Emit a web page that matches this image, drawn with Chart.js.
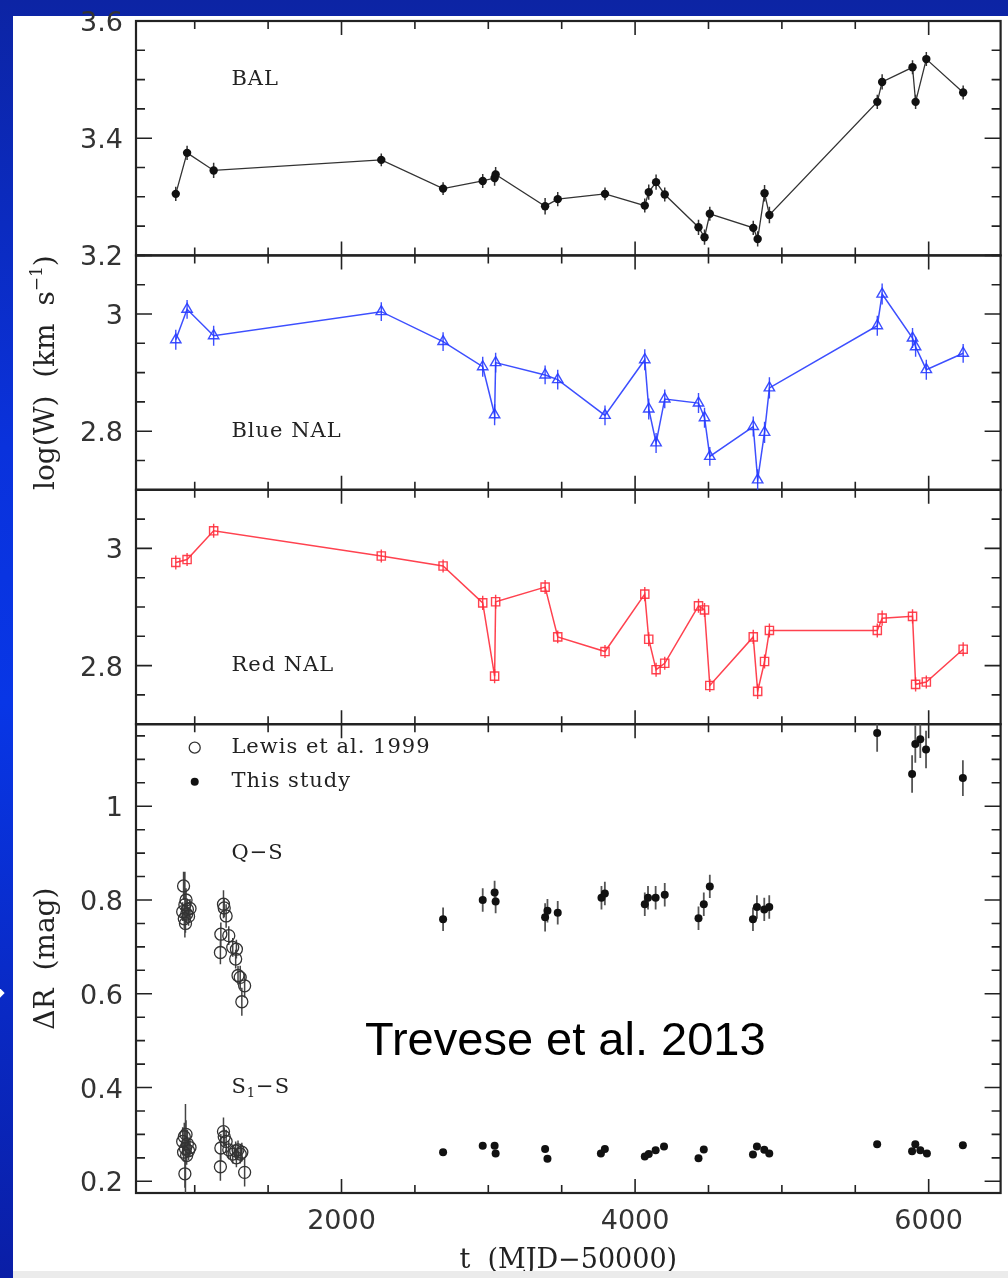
<!DOCTYPE html>
<html>
<head>
<meta charset="utf-8">
<script src="https://cdn.jsdelivr.net/npm/chart.js@4.4.1/dist/chart.umd.min.js"></script>
<style>
  html, body { margin: 0; padding: 0; }
  body {
    width: 1008px; height: 1278px; position: relative; overflow: hidden;
    background: linear-gradient(180deg, #0c24a4 0%, #0a32dc 35%, #0836e6 55%, #0a1ea6 100%);
  }
  #sheet { position: absolute; left: 13px; top: 16px; width: 995px; height: 1255px; background: #fff; }
  #strip { position: absolute; left: 13px; top: 1271px; width: 995px; height: 7px; background: #ebebeb; z-index: 3; }
  #nub { position: absolute; left: -5px; top: 989px; width: 8px; height: 8px; background: #fff; transform: rotate(45deg); }
  #c { position: absolute; left: 0; top: 0; z-index: 2; }
</style>
</head>
<body>
<div id="sheet"></div>
<div id="nub"></div>
<canvas id="c" width="1008" height="1278"></canvas>
<div id="strip"></div>
<script>
// epochs shared by the three absorption-line panels (MJD-50000)
const lineT = [871, 948, 1129, 2271, 2692, 2962, 3043, 3050, 3387, 3473, 3795, 4066, 4093, 4143,
  4202, 4432, 4473, 4509, 4805, 4835, 4882, 4915, 5650, 5683, 5890, 5911, 5984, 6235];
const balW = [3.305, 3.375, 3.345, 3.363, 3.314, 3.327, 3.332, 3.338, 3.284, 3.296, 3.305, 3.285, 3.308, 3.325,
  3.304, 3.248, 3.231, 3.271, 3.247, 3.228, 3.306, 3.269, 3.462, 3.496, 3.521, 3.462, 3.535, 3.478];
const balErr = [0.012, 0.012, 0.013, 0.011, 0.011, 0.012, 0.013, 0.013, 0.014, 0.012, 0.011, 0.012, 0.013, 0.013,
  0.012, 0.013, 0.013, 0.012, 0.012, 0.013, 0.014, 0.014, 0.012, 0.013, 0.012, 0.012, 0.012, 0.012];
const blueW = [2.956, 3.008, 2.963, 3.004, 2.953, 2.910, 2.828, 2.917, 2.896, 2.888, 2.827, 2.922, 2.838, 2.780,
  2.855, 2.848, 2.823, 2.757, 2.808, 2.717, 2.798, 2.874, 2.980, 3.034, 2.959, 2.944, 2.905, 2.933];
const blueErr = [0.017, 0.016, 0.017, 0.016, 0.016, 0.017, 0.018, 0.017, 0.016, 0.017, 0.017, 0.018, 0.018, 0.017,
  0.016, 0.017, 0.017, 0.016, 0.017, 0.018, 0.018, 0.018, 0.017, 0.018, 0.017, 0.017, 0.017, 0.016];
const redW = [2.976, 2.981, 3.030, 2.987, 2.970, 2.907, 2.782, 2.909, 2.934, 2.849, 2.824, 2.922, 2.845, 2.793,
  2.804, 2.902, 2.895, 2.766, 2.849, 2.756, 2.807, 2.860, 2.860, 2.881, 2.884, 2.768, 2.772, 2.828];
const redErr = [0.012, 0.011, 0.012, 0.011, 0.011, 0.012, 0.012, 0.012, 0.012, 0.011, 0.011, 0.012, 0.012, 0.012,
  0.011, 0.012, 0.012, 0.011, 0.012, 0.013, 0.012, 0.012, 0.012, 0.013, 0.012, 0.012, 0.011, 0.012];

// Lewis et al. 1999 photometry
const lewisT = [918, 924, 929, 933, 937, 941, 945, 950, 958, 968,
  1175, 1178, 1196, 1201, 1214, 1232, 1259, 1279, 1284, 1295, 1310, 1321, 1340];
const lewisQS = [0.775, 0.830, 0.760, 0.790, 0.750, 0.800, 0.770, 0.780, 0.765, 0.782,
  0.688, 0.727, 0.791, 0.783, 0.766, 0.724, 0.699, 0.674, 0.695, 0.639, 0.635, 0.583, 0.617];
const lewisQSErr = [0.02, 0.03, 0.02, 0.07, 0.02, 0.025, 0.02, 0.02, 0.02, 0.02,
  0.025, 0.025, 0.03, 0.02, 0.025, 0.02, 0.02, 0.02, 0.02, 0.02, 0.025, 0.03, 0.025];
const lewisS1 = [0.285, 0.262, 0.295, 0.216, 0.270, 0.300, 0.255, 0.280, 0.265, 0.272,
  0.231, 0.271, 0.306, 0.295, 0.285, 0.267, 0.258, 0.265, 0.250, 0.267, 0.258, 0.262, 0.219];
const lewisS1Err = [0.03, 0.02, 0.03, 0.03, 0.095, 0.03, 0.02, 0.03, 0.02, 0.02,
  0.03, 0.03, 0.03, 0.02, 0.025, 0.02, 0.02, 0.02, 0.02, 0.02, 0.02, 0.02, 0.03];

// this study
const qsT = [2692, 2962, 3043, 3050, 3387, 3403, 3473, 3771, 3794, 4066, 4088, 4140, 4202, 4432,
  4468, 4509, 4803, 4830, 4880, 4914, 5649, 5887, 5909, 5943, 5982, 6233];
const qsW = [0.759, 0.800, 0.816, 0.797, 0.763, 0.777, 0.773, 0.805, 0.814, 0.791, 0.805, 0.805, 0.811, 0.761,
  0.791, 0.829, 0.759, 0.785, 0.780, 0.785, 1.156, 1.069, 1.133, 1.143, 1.121, 1.060];
const qsErr = [0.025, 0.025, 0.025, 0.025, 0.03, 0.025, 0.025, 0.025, 0.025, 0.025, 0.025, 0.025, 0.025, 0.025,
  0.025, 0.025, 0.025, 0.025, 0.025, 0.025, 0.04, 0.04, 0.04, 0.04, 0.04, 0.038];
const s1T = [2692, 2962, 3043, 3050, 3387, 3403, 3767, 3794, 4066, 4093, 4140, 4197, 4432, 4468,
  4803, 4830, 4880, 4914, 5649, 5887, 5909, 5943, 5988, 6233];
const s1W = [0.262, 0.276, 0.276, 0.259, 0.269, 0.248, 0.259, 0.269, 0.253, 0.258, 0.266, 0.274, 0.249, 0.268,
  0.257, 0.274, 0.267, 0.259, 0.279, 0.264, 0.279, 0.266, 0.259, 0.277];
const s1Err = s1W.map(() => 0.004);

// axes
const X_MIN = 600, X_MAX = 6490;
const X_LABELS = [2000, 4000, 6000];
const BAL_TICKS = [3.2, 3.4, 3.6];
const NAL_TICKS = [2.8, 3];
const DR_TICKS = [0.2, 0.4, 0.6, 0.8, 1];

const INK = '#333';
const BLUE = 'rgba(40, 60, 255, 0.9)';
const RED = 'rgba(255, 45, 60, 0.9)';
const SERIF = '"DejaVu Serif", serif';

const pts = (xs, ys) => xs.map((x, i) => ({ x, y: ys[i] }));
const fmt = v => String(+Number(v).toFixed(1));

function yScale(min, max, ticks, weight) {
  return {
    type: 'linear', position: 'left', stack: 'panels', stackWeight: weight,
    min, max,
    grid: { display: false, drawTicks: false },
    border: { display: false },
    ticks: { font: { family: 'DejaVu Sans', size: 27 }, color: INK, padding: 13, labelOffset: 3,
      autoSkip: false, callback: fmt },
    afterBuildTicks: s => { s.ticks = ticks.map(v => ({ value: v })); },
    afterFit: s => { s.width = 136; s.paddingTop = 0; s.paddingBottom = 0; }
  };
}

// text made of pieces: [text, size factor, rise]
function richText(ctx, parts, x, y, size, align) {
  let total = 0;
  const widths = parts.map(p => {
    ctx.font = Math.round(size * (p[1] || 1)) + 'px ' + SERIF;
    const w = ctx.measureText(p[0]).width;
    total += w;
    return w;
  });
  let cx = align === 'center' ? x - total / 2 : x;
  parts.forEach((p, i) => {
    ctx.font = Math.round(size * (p[1] || 1)) + 'px ' + SERIF;
    ctx.fillText(p[0], cx, y + (p[2] || 0));
    cx += widths[i];
  });
}

const panelPlugin = {
  id: 'panels',
  beforeDatasetsDraw(chart) {
    const { ctx, chartArea: a, scales } = chart;
    const xs = scales.x;
    ctx.save();
    ctx.strokeStyle = '#222';
    ctx.lineWidth = 2.2;
    ['yBAL', 'yBlue', 'yRed', 'yDR'].forEach(id => {
      const ys = scales[id];
      ctx.strokeRect(a.left, ys.top, a.right - a.left, ys.bottom - ys.top);
      ctx.lineWidth = 1.6;
      ctx.beginPath();
      for (let t = Math.ceil(xs.min / 500) * 500; t <= xs.max; t += 500) {
        const px = xs.getPixelForValue(t);
        const len = t % 2000 === 0 ? 14 : 8;
        ctx.moveTo(px, ys.top); ctx.lineTo(px, ys.top + len);
        ctx.moveTo(px, ys.bottom); ctx.lineTo(px, ys.bottom - len);
      }
      const n0 = Math.ceil(ys.min / 0.05 - 1e-6), n1 = Math.floor(ys.max / 0.05 + 1e-6);
      for (let n = n0; n <= n1; n++) {
        const py = ys.getPixelForValue(n * 0.05);
        const len = n % 4 === 0 ? 16 : 9;
        ctx.moveTo(a.left, py); ctx.lineTo(a.left + len, py);
        ctx.moveTo(a.right, py); ctx.lineTo(a.right - len, py);
      }
      ctx.stroke();
      ctx.lineWidth = 2.2;
    });
    ctx.restore();

    // error bars
    chart.data.datasets.forEach(ds => {
      if (!ds.errors) return;
      const ys = scales[ds.yAxisID];
      ctx.save();
      ctx.beginPath();
      ctx.rect(a.left, ys.top, a.right - a.left, ys.bottom - ys.top);
      ctx.clip();
      ctx.strokeStyle = ds.errorColor;
      ctx.lineWidth = ds.errorWidth;
      ctx.beginPath();
      ds.data.forEach((p, i) => {
        const px = xs.getPixelForValue(p.x);
        ctx.moveTo(px, ys.getPixelForValue(p.y - ds.errors[i]));
        ctx.lineTo(px, ys.getPixelForValue(p.y + ds.errors[i]));
      });
      ctx.stroke();
      ctx.restore();
    });
  },
  afterDraw(chart) {
    const { ctx, scales } = chart;
    const xs = scales.x;
    const X = v => xs.getPixelForValue(v);
    const Y = (id, v) => scales[id].getPixelForValue(v);
    ctx.save();
    ctx.fillStyle = '#222';
    ctx.textBaseline = 'middle';
    ctx.letterSpacing = '1px';
    richText(ctx, [['BAL']], X(1250), Y('yBAL', 3.5), 21);
    richText(ctx, [['Blue NAL']], X(1250), Y('yBlue', 2.8), 21);
    richText(ctx, [['Red NAL']], X(1250), Y('yRed', 2.8), 21);
    richText(ctx, [['Lewis et al. 1999']], X(1250), Y('yDR', 1.125), 21);
    richText(ctx, [['This study']], X(1250), Y('yDR', 1.052), 21);
    richText(ctx, [['Q\u2212S']], X(1250), Y('yDR', 0.9), 21);
    richText(ctx, [['S'], ['1', 0.6, 6], ['\u2212S']], X(1250), Y('yDR', 0.4), 21);

    // legend symbols
    ctx.strokeStyle = '#333';
    ctx.lineWidth = 1.3;
    ctx.beginPath();
    ctx.arc(X(1000), Y('yDR', 1.125), 5.5, 0, 2 * Math.PI);
    ctx.stroke();
    ctx.fillStyle = '#111';
    ctx.beginPath();
    ctx.arc(X(1000), Y('yDR', 1.052), 4, 0, 2 * Math.PI);
    ctx.fill();

    // rotated axis titles
    ctx.fillStyle = '#222';
    ctx.letterSpacing = '0px';
    const blue = scales.yBlue, dr = scales.yDR;
    ctx.save();
    ctx.translate(47, (blue.top + blue.bottom) / 2);
    ctx.rotate(-Math.PI / 2);
    richText(ctx, [['log(W)  (km  s'], ['\u22121', 0.62, -9], [')']], 0, 0, 28, 'center');
    ctx.restore();
    ctx.save();
    ctx.translate(47, (dr.top + dr.bottom) / 2);
    ctx.rotate(-Math.PI / 2);
    richText(ctx, [['\u0394R  (mag)']], 0, 0, 28, 'center');
    ctx.restore();

    // slide caption
    ctx.fillStyle = '#000';
    ctx.textBaseline = 'alphabetic';
    ctx.font = '47px "Liberation Sans", Arial, sans-serif';
    ctx.fillText('Trevese et al. 2013', 365, 1055);
    ctx.restore();
  }
};

new Chart(document.getElementById('c').getContext('2d'), {
  type: 'scatter',
  data: {
    datasets: [
      { label: 'BAL', data: pts(lineT, balW), yAxisID: 'yBAL', showLine: true,
        borderColor: '#333', borderWidth: 1.3, pointStyle: 'circle', pointRadius: 4.2,
        pointBackgroundColor: '#111', pointBorderWidth: 0,
        errors: balErr, errorColor: '#333', errorWidth: 1.5 },
      { label: 'Blue NAL', data: pts(lineT, blueW), yAxisID: 'yBlue', showLine: true,
        borderColor: BLUE, borderWidth: 1.5, pointStyle: 'triangle', pointRadius: 6,
        pointBackgroundColor: 'rgba(0,0,0,0)', pointBorderColor: BLUE, pointBorderWidth: 1.4,
        errors: blueErr, errorColor: BLUE, errorWidth: 1.4 },
      { label: 'Red NAL', data: pts(lineT, redW), yAxisID: 'yRed', showLine: true,
        borderColor: RED, borderWidth: 1.5, pointStyle: 'rect', pointRadius: 5.8,
        pointBackgroundColor: 'rgba(0,0,0,0)', pointBorderColor: RED, pointBorderWidth: 1.4,
        errors: redErr, errorColor: RED, errorWidth: 1.4 },
      { label: 'Lewis Q-S', data: pts(lewisT, lewisQS), yAxisID: 'yDR',
        pointStyle: 'circle', pointRadius: 6, pointBackgroundColor: 'rgba(0,0,0,0)',
        pointBorderColor: '#333', pointBorderWidth: 1.3,
        errors: lewisQSErr, errorColor: '#444', errorWidth: 1.5 },
      { label: 'Lewis S1-S', data: pts(lewisT, lewisS1), yAxisID: 'yDR',
        pointStyle: 'circle', pointRadius: 6, pointBackgroundColor: 'rgba(0,0,0,0)',
        pointBorderColor: '#333', pointBorderWidth: 1.3,
        errors: lewisS1Err, errorColor: '#444', errorWidth: 1.5 },
      { label: 'Study Q-S', data: pts(qsT, qsW), yAxisID: 'yDR',
        pointStyle: 'circle', pointRadius: 4, pointBackgroundColor: '#111', pointBorderWidth: 0,
        errors: qsErr, errorColor: '#555', errorWidth: 1.8 },
      { label: 'Study S1-S', data: pts(s1T, s1W), yAxisID: 'yDR',
        pointStyle: 'circle', pointRadius: 4, pointBackgroundColor: '#111', pointBorderWidth: 0,
        errors: s1Err, errorColor: '#555', errorWidth: 1.8 }
    ]
  },
  options: {
    responsive: false,
    devicePixelRatio: 1,
    animation: false,
    layout: { padding: { top: 21, right: 4, left: 0, bottom: 0 } },
    plugins: { legend: { display: false }, tooltip: { enabled: false } },
    scales: {
      x: {
        type: 'linear', position: 'bottom', min: X_MIN, max: X_MAX,
        grid: { display: false, drawTicks: false },
        border: { display: false },
        ticks: { font: { family: 'DejaVu Sans', size: 27 }, color: INK, padding: 13, maxRotation: 0,
          autoSkip: false, callback: v => String(v) },
        afterBuildTicks: s => { s.ticks = X_LABELS.map(v => ({ value: v })); },
        afterFit: s => { s.height = 85; s.paddingLeft = 0; s.paddingRight = 0; },
        title: { display: true, text: 't  (MJD\u221250000)', color: '#222',
          font: { family: 'DejaVu Serif', size: 27 }, padding: { top: 0, bottom: 1 } }
      },
      // listed bottom to top: the last stacked axis is placed highest
      yDR: yScale(0.175, 1.175, DR_TICKS, 2),
      yRed: yScale(2.7, 3.1, NAL_TICKS, 1),
      yBlue: yScale(2.7, 3.1, NAL_TICKS, 1),
      yBAL: yScale(3.2, 3.6, BAL_TICKS, 1)
    }
  },
  plugins: [panelPlugin]
});
</script>
</body>
</html>
